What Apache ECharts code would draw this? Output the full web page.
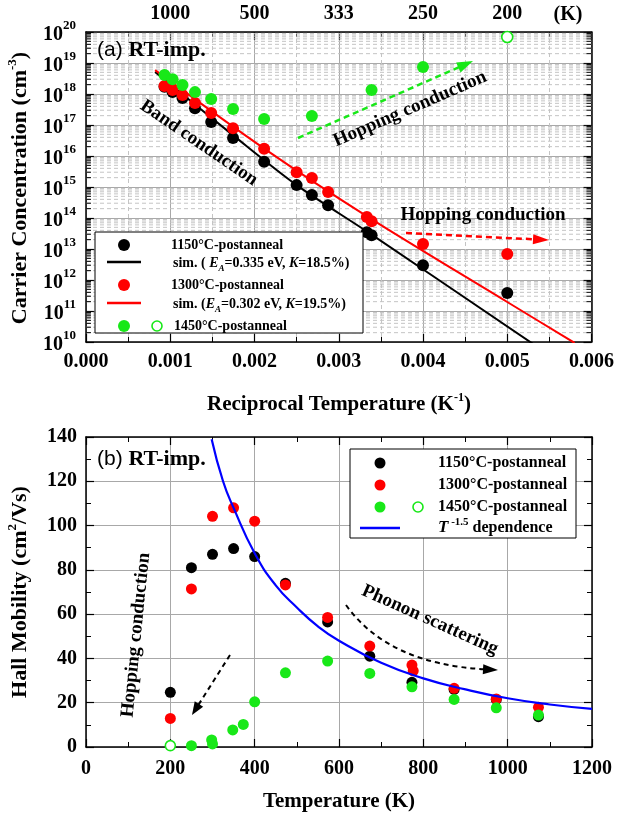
<!DOCTYPE html>
<html><head><meta charset="utf-8">
<script src="https://cdn.jsdelivr.net/npm/echarts@6/dist/echarts.min.js"></script>
<style>html,body{margin:0;padding:0;background:#fff}#c{width:617px;height:816px}</style>
</head><body><div id="c"></div>
<script>
// ================= DATA =================
// (a) carrier concentration vs reciprocal temperature
const tempsA      = [1073, 973, 873, 773, 673, 573, 473, 400, 373, 348, 300, 295, 250, 200];
const conc1150    = [1.7e18, 1.15e18, 7.4e17, 3.5e17, 1.26e17, 3.8e16, 6.5e15, 1.15e15, 5.5e14, 2.6e14, 3.5e13, 2.8e13, 3.0e12, 3.8e11];
const conc1300    = [1.8e18, 1.35e18, 9.3e17, 5.1e17, 2.45e17, 7.9e16, 1.7e16, 3.0e15, 1.95e15, 6.9e14, 1.07e14, 7.9e13, 1.45e13, 6.9e12];
const tempsGreenA = [1073, 973, 873, 773, 673, 573, 473, 373, 295, 250];
const conc1450    = [4.1e18, 3.0e18, 1.95e18, 1.15e18, 6.9e17, 3.3e17, 1.55e17, 1.95e17, 1.35e18, 7.4e18];
const tempsOpenA  = [200];
const conc1450Open = [6.9e19];
const sim1150X = [0.00082, 0.00174, 0.00250, 0.00336, 0.00530];
const sim1150Y = [5.1e18, 4.8e16, 1.15e15, 3.3e13, 8.9e9];
const sim1300X = [0.00082, 0.00212, 0.00335, 0.00500, 0.00580];
const sim1300Y = [5.9e18, 1.7e16, 1.07e14, 1.95e11, 9.3e9];
const topTickLabels = ['', '1000', '500', '333', '250', '200', ''];

// (b) Hall mobility vs temperature
const tempsB   = [200, 250, 300, 350, 400, 473, 573, 673, 773, 873, 973, 1073];
const mob1150  = [24.7, 81.0, 87.0, 89.6, 86.0, 73.9, 56.5, 41.0, 29.2, 26.0, 21.5, 13.7];
const mob1300  = [12.9, 71.4, 104.2, 108.0, 102.0, 73.2, 58.5, 45.6, 37.0, 26.5, 21.7, 17.9];
const tempsRedExtra = [776];
const mob1300Extra  = [34.4];
const tempsGreenB = [250, 298, 300, 348, 373, 400, 473, 573, 673, 773, 873, 973, 1073];
const mob1450     = [0.6, 3.2, 1.4, 7.7, 10.2, 20.4, 33.5, 38.8, 33.2, 27.2, 21.5, 17.7, 14.4];
const tempsOpenB  = [200];
const mob1450Open = [0.6];
const tempsFit = [298, 325, 350, 400, 450, 500, 550, 600, 700, 800, 900, 1000, 1100, 1200];
const mobFit   = [139, 120, 108, 87.5, 73, 63, 54.5, 48, 38, 31, 26, 22, 19.2, 17.2];

// ================= CHART =================
const FONT = 'Liberation Serif';
const GREEN = '#18e818';
const lg = v => Math.log10(v);
const zip = (a, b) => a.map((v, i) => [v, b[i]]);
const chart = echarts.init(document.getElementById('c'));

const minorLog = [];
for (let n = 10; n < 20; n++) for (let k = 2; k <= 9; k++) minorLog.push([0, n + Math.log10(k)]);

const AX = {color: '#000', width: 1.5};
const tickLbl = {fontFamily: FONT, fontWeight: 'bold', fontSize: 20, color: '#000'};
function axisBase(extra) {
  return Object.assign({
    type: 'value',
    axisLine: {show: true, onZero: false, lineStyle: AX},
    axisTick: {show: true, inside: true, length: 8, lineStyle: {color: '#000', width: 1.2}},
    minorTick: {show: true, splitNumber: 2, length: 5, lineStyle: {color: '#000', width: 1}},
    splitLine: {show: false},
    axisLabel: Object.assign({show: false}, tickLbl)
  }, extra);
}

const sym = (color, size) => ({symbol: 'circle', symbolSize: size, itemStyle: {color: color, opacity: 1}});

const option = {
  animation: false,
  backgroundColor: '#fff',
  grid: [
    {left: 86, top: 32, width: 506, height: 310},
    {left: 86, top: 437, width: 506, height: 310}
  ],
  xAxis: [
    axisBase({gridIndex: 0, position: 'bottom', min: 0, max: 0.006, interval: 0.001,
      axisLabel: Object.assign({show: true, margin: 10, formatter: v => v.toFixed(3)}, tickLbl),
      splitLine: {show: true, lineStyle: {color: '#a8a8a8', width: 1}},
      minorSplitLine: {show: true, lineStyle: {color: '#c4c4c4', width: 1, type: [4, 3]}}}),
    axisBase({gridIndex: 0, position: 'top', min: 0, max: 0.006, interval: 0.001,
      axisLabel: Object.assign({show: true, margin: 8, formatter: v => topTickLabels[Math.round(v * 1000)] || ''}, tickLbl)}),
    axisBase({gridIndex: 1, position: 'bottom', min: 0, max: 1200, interval: 200,
      axisLabel: Object.assign({show: true, margin: 12, formatter: v => String(v)}, tickLbl),
      splitLine: {show: true, lineStyle: {color: '#a8a8a8', width: 1}}}),
    axisBase({gridIndex: 1, position: 'top', min: 0, max: 1200, interval: 200})
  ],
  yAxis: [
    axisBase({gridIndex: 0, position: 'left', min: 10, max: 20, interval: 1, minorTick: {show: false},
      axisLabel: {show: true, margin: 10, formatter: v => '{b|10}{s|' + v + '}',
        rich: {
          b: {fontFamily: FONT, fontWeight: 'bold', fontSize: 20, color: '#000', lineHeight: 26, verticalAlign: 'bottom'},
          s: {fontFamily: FONT, fontWeight: 'bold', fontSize: 13, color: '#000', lineHeight: 26, verticalAlign: 'top'}
        }},
      splitLine: {show: true, lineStyle: {color: '#a8a8a8', width: 1}}}),
    axisBase({gridIndex: 0, position: 'right', min: 10, max: 20, interval: 1, minorTick: {show: false}}),
    axisBase({gridIndex: 1, position: 'left', min: 0, max: 140, interval: 20,
      axisLabel: Object.assign({show: true, margin: 9, formatter: v => String(v)}, tickLbl),
      splitLine: {show: true, lineStyle: {color: '#a8a8a8', width: 1}}}),
    axisBase({gridIndex: 1, position: 'right', min: 0, max: 140, interval: 20})
  ],
  series: [
    { // log minor grid + ticks (a)
      type: 'custom', xAxisIndex: 0, yAxisIndex: 0, z: 1, silent: true, clip: false,
      data: minorLog,
      renderItem: (params, api) => {
        const v = api.value(1);
        const p0 = api.coord([0, v]);
        const p1 = api.coord([0.006, v]);
        return {type: 'group', children: [
          {type: 'line', shape: {x1: p0[0], y1: p0[1], x2: p1[0], y2: p1[1]}, style: {stroke: '#c4c4c4', lineWidth: 1, lineDash: [4, 3]}},
          {type: 'line', shape: {x1: p0[0], y1: p0[1], x2: p0[0] + 5, y2: p0[1]}, style: {stroke: '#000', lineWidth: 1}},
          {type: 'line', shape: {x1: p1[0] - 5, y1: p1[1], x2: p1[0], y2: p1[1]}, style: {stroke: '#000', lineWidth: 1}}
        ]};
      }
    },
    {type: 'line', xAxisIndex: 0, yAxisIndex: 0, z: 3, symbol: 'none', smooth: 0.3,
      data: zip(sim1150X, sim1150Y.map(lg)), lineStyle: {color: '#000', width: 2}},
    {type: 'line', xAxisIndex: 0, yAxisIndex: 0, z: 3, symbol: 'none', smooth: 0.3,
      data: zip(sim1300X, sim1300Y.map(lg)), lineStyle: {color: '#ff0000', width: 2}},
    Object.assign({type: 'scatter', xAxisIndex: 0, yAxisIndex: 0, z: 4,
      data: zip(tempsA.map(t => 1 / t), conc1150.map(lg))}, sym('#000', 12)),
    Object.assign({type: 'scatter', xAxisIndex: 0, yAxisIndex: 0, z: 5,
      data: zip(tempsA.map(t => 1 / t), conc1300.map(lg))}, sym('#ff0000', 12)),
    Object.assign({type: 'scatter', xAxisIndex: 0, yAxisIndex: 0, z: 6,
      data: zip(tempsGreenA.map(t => 1 / t), conc1450.map(lg))}, sym(GREEN, 12)),
    {type: 'scatter', xAxisIndex: 0, yAxisIndex: 0, z: 6, symbol: 'circle', symbolSize: 11,
      data: zip(tempsOpenA.map(t => 1 / t), conc1450Open.map(lg)),
      itemStyle: {color: '#fff', borderColor: GREEN, borderWidth: 1.6, opacity: 1}},

    Object.assign({type: 'scatter', xAxisIndex: 2, yAxisIndex: 2, z: 4,
      data: zip(tempsB, mob1150)}, sym('#000', 11)),
    Object.assign({type: 'scatter', xAxisIndex: 2, yAxisIndex: 2, z: 5,
      data: zip(tempsB, mob1300).concat(zip(tempsRedExtra, mob1300Extra))}, sym('#ff0000', 11)),
    Object.assign({type: 'scatter', xAxisIndex: 2, yAxisIndex: 2, z: 6,
      data: zip(tempsGreenB, mob1450)}, sym(GREEN, 11)),
    {type: 'scatter', xAxisIndex: 2, yAxisIndex: 2, z: 6, symbol: 'circle', symbolSize: 10,
      data: zip(tempsOpenB, mob1450Open),
      itemStyle: {color: '#fff', borderColor: GREEN, borderWidth: 1.6, opacity: 1}},
    {type: 'line', xAxisIndex: 2, yAxisIndex: 2, z: 7, symbol: 'none', smooth: true,
      data: zip(tempsFit, mobFit), lineStyle: {color: '#0000ff', width: 2.2}}
  ]
};

// ---------- annotations / legends (graphic) ----------
const T = (x, y, text, size, opts) => Object.assign({
  type: 'text', x: x, y: y, z: 100,
  style: Object.assign({text: text, fontFamily: FONT, fontWeight: 'bold', fontSize: size, fill: '#000',
    align: 'left', verticalAlign: 'middle'}, (opts && opts.style) || {})
}, (opts && opts.el) || {});
const richBase = {
  n: {fontFamily: FONT, fontWeight: 'bold', fontSize: 14, fill: '#000'},
  i: {fontFamily: FONT, fontWeight: 'bold', fontStyle: 'italic', fontSize: 14, fill: '#000'},
  sub: {fontFamily: FONT, fontWeight: 'bold', fontStyle: 'italic', fontSize: 9, fill: '#000', verticalAlign: 'bottom', lineHeight: 20},
  sup: {fontFamily: FONT, fontWeight: 'bold', fontSize: 11, fill: '#000', verticalAlign: 'top', lineHeight: 20}
};
function arrowHead(x, y, ang, color, len, w) {
  const bx = x - len * Math.cos(ang), by = y - len * Math.sin(ang);
  const px = -Math.sin(ang) * w, py = Math.cos(ang) * w;
  return {type: 'polygon', z: 100, shape: {points: [[x, y], [bx + px, by + py], [bx - px, by - py]]}, style: {fill: color}};
}
function dashedArrow(x1, y1, x2, y2, color, dash, width, len, w) {
  const ang = Math.atan2(y2 - y1, x2 - x1);
  const ex = x2 - len * 0.8 * Math.cos(ang), ey = y2 - len * 0.8 * Math.sin(ang);
  return [
    {type: 'line', z: 100, shape: {x1: x1, y1: y1, x2: ex, y2: ey}, style: {stroke: color, lineWidth: width, lineDash: dash}},
    arrowHead(x2, y2, ang, color, len, w)
  ];
}
const dot = (cx, cy, color, r) => ({type: 'circle', z: 101, shape: {cx: cx, cy: cy, r: r}, style: {fill: color}});
const ring = (cx, cy, color, r) => ({type: 'circle', z: 101, shape: {cx: cx, cy: cy, r: r}, style: {fill: '#fff', stroke: color, lineWidth: 1.6}});
const seg = (x1, y1, x2, y2, color, w) => ({type: 'line', z: 101, shape: {x1: x1, y1: y1, x2: x2, y2: y2}, style: {stroke: color, lineWidth: w}});

const graphics = [];
// axis titles
graphics.push({type: 'text', x: 339, y: 405, z: 100, style: {
  text: '{n|Reciprocal Temperature (K}{sup|-1}{n|)}', align: 'center', verticalAlign: 'middle',
  rich: {n: {fontFamily: FONT, fontWeight: 'bold', fontSize: 21, fill: '#000', lineHeight: 26},
         sup: {fontFamily: FONT, fontWeight: 'bold', fontSize: 12, fill: '#000', verticalAlign: 'top', lineHeight: 26}}}});
graphics.push({type: 'text', x: 339, y: 802, z: 100, style: {
  text: 'Temperature (K)', align: 'center', verticalAlign: 'middle', fontFamily: FONT, fontWeight: 'bold', fontSize: 21, fill: '#000'}});
graphics.push({type: 'text', x: 20, y: 188, rotation: Math.PI / 2, z: 100, style: {
  text: '{n|Carrier Concentration (cm}{sup|-3}{n|)}', align: 'center', verticalAlign: 'middle',
  rich: {n: {fontFamily: FONT, fontWeight: 'bold', fontSize: 22, fill: '#000', lineHeight: 28},
         sup: {fontFamily: FONT, fontWeight: 'bold', fontSize: 13, fill: '#000', verticalAlign: 'top', lineHeight: 28}}}});
graphics.push({type: 'text', x: 20, y: 592, rotation: Math.PI / 2, z: 100, style: {
  text: '{n|Hall Mobility (cm}{sup|2}{n|/Vs)}', align: 'center', verticalAlign: 'middle',
  rich: {n: {fontFamily: FONT, fontWeight: 'bold', fontSize: 22, fill: '#000', lineHeight: 28},
         sup: {fontFamily: FONT, fontWeight: 'bold', fontSize: 13, fill: '#000', verticalAlign: 'top', lineHeight: 28}}}});
graphics.push(T(568, 15, '(K)', 20, {style: {align: 'center'}}));

// panel labels
graphics.push({type: 'text', x: 97, y: 50, z: 100, style: {
  text: '{a|(a) }{b|RT-imp.}', verticalAlign: 'middle',
  rich: {a: {fontFamily: 'Liberation Sans', fontSize: 21, fill: '#000'},
         b: {fontFamily: FONT, fontWeight: 'bold', fontSize: 22, fill: '#000'}}}});
graphics.push({type: 'text', x: 97, y: 459, z: 100, style: {
  text: '{a|(b) }{b|RT-imp.}', verticalAlign: 'middle',
  rich: {a: {fontFamily: 'Liberation Sans', fontSize: 21, fill: '#000'},
         b: {fontFamily: FONT, fontWeight: 'bold', fontSize: 22, fill: '#000'}}}});

// (a) annotations
graphics.push(T(199, 143, 'Band conduction', 19, {style: {align: 'center'}, el: {rotation: -0.60}}));
graphics.push(T(410, 109, 'Hopping conduction', 19, {style: {align: 'center'}, el: {rotation: 0.41}}));
graphics.push(T(483, 215, 'Hopping conduction', 19, {style: {align: 'center'}}));
graphics.push(...dashedArrow(298, 138, 473, 61, GREEN, [6, 4], 2.5, 16, 5.5));
graphics.push(...dashedArrow(406, 233, 549, 240, '#ff0000', [6, 4], 2.5, 16, 5));

// (a) legend
graphics.push({type: 'rect', z: 100, shape: {x: 95, y: 232, width: 268, height: 101}, style: {fill: '#fff', stroke: '#000', lineWidth: 1}});
graphics.push(dot(124, 245, '#000', 6));
graphics.push(T(171, 245, '1150°C-postanneal', 14));
graphics.push(seg(107, 262, 141, 262, '#000', 2.5));
graphics.push({type: 'text', x: 173, y: 263, z: 101, style: {text: '{n|sim. ( }{i|E}{sub|A}{n|=0.335 eV, }{i|K}{n|=18.5%)}', verticalAlign: 'middle', rich: richBase}});
graphics.push(dot(124, 285, '#ff0000', 6));
graphics.push(T(171, 285, '1300°C-postanneal', 14));
graphics.push(seg(107, 303, 141, 303, '#ff0000', 2.5));
graphics.push({type: 'text', x: 173, y: 304, z: 101, style: {text: '{n|sim. (}{i|E}{sub|A}{n|=0.302 eV, }{i|K}{n|=19.5%)}', verticalAlign: 'middle', rich: richBase}});
graphics.push(dot(124, 326, GREEN, 6));
graphics.push(ring(157, 326, GREEN, 5));
graphics.push(T(174, 326, '1450°C-postanneal', 14));

// (b) legend
graphics.push({type: 'rect', z: 100, shape: {x: 350, y: 449, width: 226, height: 89}, style: {fill: '#fff', stroke: '#000', lineWidth: 1}});
graphics.push(dot(380, 463, '#000', 5.5));
graphics.push(T(438, 463, '1150°C-postanneal', 16));
graphics.push(dot(380, 485, '#ff0000', 5.5));
graphics.push(T(438, 485, '1300°C-postanneal', 16));
graphics.push(dot(380, 507, GREEN, 5.5));
graphics.push(ring(418, 507, GREEN, 5));
graphics.push(T(438, 507, '1450°C-postanneal', 16));
graphics.push(seg(360, 528, 400, 528, '#0000ff', 2.5));
graphics.push({type: 'text', x: 438, y: 528, z: 101, style: {text: '{i|T}{sup| -1.5}{n| dependence}', verticalAlign: 'middle',
  rich: {n: {fontFamily: FONT, fontWeight: 'bold', fontSize: 16, fill: '#000', lineHeight: 22},
         i: {fontFamily: FONT, fontWeight: 'bold', fontStyle: 'italic', fontSize: 17, fill: '#000', lineHeight: 22},
         sup: {fontFamily: FONT, fontWeight: 'bold', fontSize: 11, fill: '#000', verticalAlign: 'top', lineHeight: 22}}}});

// (b) annotations
graphics.push(T(136, 635, 'Hopping conduction', 19, {style: {align: 'center'}, el: {rotation: 1.47}}));
graphics.push(T(430, 620, 'Phonon scattering', 19, {style: {align: 'center'}, el: {rotation: -0.42}}));
graphics.push(...dashedArrow(230, 655, 192, 715, '#000', [5, 4], 2, 13, 5));
graphics.push({type: 'bezierCurve', z: 100, shape: {x1: 346, y1: 605, cpx1: 388, cpy1: 664, x2: 485, y2: 669.3},
  style: {stroke: '#000', lineWidth: 2, lineDash: [5, 4], fill: null}});
graphics.push(arrowHead(498, 670, 0.055, '#000', 15, 5));

option.graphic = graphics;
chart.setOption(option);
</script>
</body></html>
